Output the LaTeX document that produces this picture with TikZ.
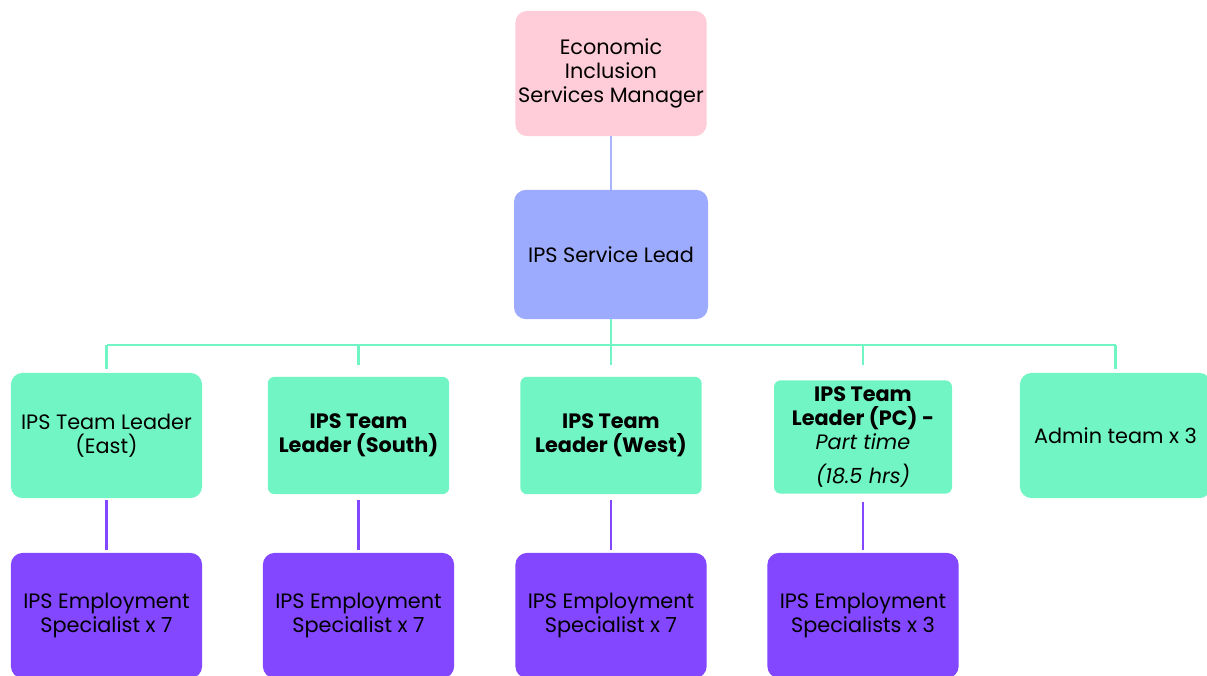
\documentclass[tikz,border=0pt]{standalone}
\usepackage{fontspec}
\setmainfont{Poppins}
\usetikzlibrary{positioning}

\definecolor{mgrpink}{HTML}{FFCCD9}
\definecolor{leadblue}{HTML}{9DABFF}
\definecolor{teamgreen}{HTML}{72F5C4}
\definecolor{specpurple}{HTML}{8247FF}
\definecolor{linkblue}{HTML}{A8B4FF}

\begin{document}
\begin{tikzpicture}[x=0.75pt,y=-0.75pt,
  box/.style={rounded corners=9pt, align=center, inner sep=2pt,
    font=\fontsize{15.6}{18}\selectfont, text=black},
  bigbox/.style={box, minimum width=143.5pt, minimum height=94pt},
  leadbox/.style={box, minimum width=136pt, minimum height=88pt, rounded corners=5pt},
  conn/.style={line width=2.2pt}]
\useasboundingbox (0,0) rectangle (1207,675);
\clip (0,0) rectangle (1207,675);

% top of the tree
\node[bigbox, fill=mgrpink] (mgr) at (611,73.5) {Economic\\Inclusion\\Services Manager};
\node[bigbox, fill=leadblue, minimum width=145.5pt, minimum height=97pt] (lead) at (611,254.5) {IPS Service Lead};

% team leaders
\node[bigbox, fill=teamgreen] (east) at (106.5,435.5) {IPS Team Leader\\(East)};
\node[leadbox, fill=teamgreen] (south) at (358.5,435.5) {\bfseries IPS Team\\\bfseries Leader (South)};
\node[leadbox, fill=teamgreen] (west) at (611,435.5) {\bfseries IPS Team\\\bfseries Leader (West)};
\node[leadbox, fill=teamgreen, minimum width=133.5pt, minimum height=85pt] (pc) at (863,437)
  {\bfseries IPS Team\\\bfseries Leader (PC) -\\\itshape Part time\\[7pt]\itshape (18.5 hrs)};
\node[bigbox, fill=teamgreen] (admin) at (1115.5,435.5) {Admin team x 3};

% specialists
\node[bigbox, fill=specpurple] (speceast) at (106.5,615.5) {IPS Employment\\Specialist x 7};
\node[bigbox, fill=specpurple] (specsouth) at (358.5,615.5) {IPS Employment\\Specialist x 7};
\node[bigbox, fill=specpurple] (specwest) at (611,615.5) {IPS Employment\\Specialist x 7};
\node[bigbox, fill=specpurple] (specpc) at (863,615.5) {IPS Employment\\Specialists x 3};

% connectors
\draw[conn, linkblue] (mgr) -- (lead);
\coordinate (bus) at (611,345);
\draw[conn, teamgreen] (lead) -- (bus);
\draw[conn, teamgreen] (east.north |- bus) -- (admin.north |- bus);
\foreach \n/\gap in {east/2.5pt, south/9pt, west/9pt, pc/11pt, admin/2.5pt}
  \draw[conn, teamgreen, shorten >=\gap] (\n.north |- bus) -- (\n.north);
\foreach \a/\b/\gap in {east/speceast/1.5pt, south/specsouth/4.5pt, west/specwest/4.5pt, pc/specpc/6pt}
  \draw[conn, specpurple, shorten <=\gap, shorten >=2.2pt] (\a) -- (\b);
\end{tikzpicture}
\end{document}
